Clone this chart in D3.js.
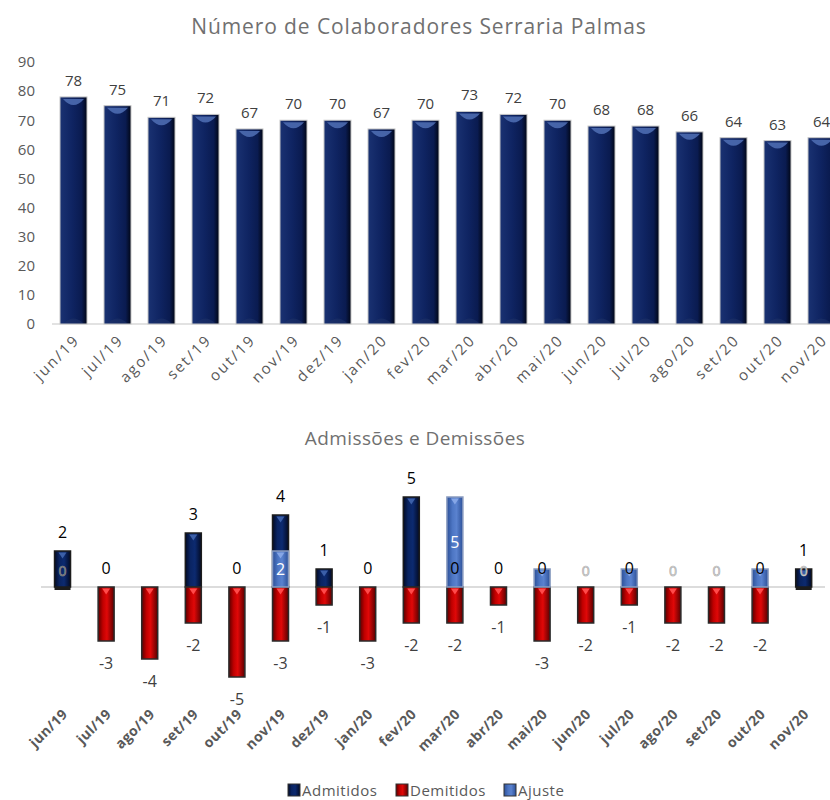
<!DOCTYPE html>
<html>
<head>
<meta charset="utf-8">
<script src="https://cdn.jsdelivr.net/npm/d3@7"></script>
<style>
  body { margin: 0; background: #fff; }
  svg { font-family: "Open Sans", "Noto Sans", sans-serif; display: block; }
</style>
</head>
<body>
<div class="chart"></div>
<script>
// months shared by both charts
var months = ["jun/19","jul/19","ago/19","set/19","out/19","nov/19","dez/19","jan/20","fev/20",
              "mar/20","abr/20","mai/20","jun/20","jul/20","ago/20","set/20","out/20","nov/20"];

// headcount per month
var colaboradores = [78,75,71,72,67,70,70,67,70,73,72,70,68,68,66,64,63,64];
var yTicksTop = [0,10,20,30,40,50,60,70,80,90];

// admissions / dismissals / adjustments (null = empty cell)
var admitidos = [2,0,null,3,0,4,1,0,5,0,0,0,null,0,null,null,0,1];
var demitidos = [null,-3,-4,-2,-5,-3,-1,-3,-2,-2,-1,-3,-2,-1,-2,-2,-2,null];
var ajuste    = [0,null,null,null,null,2,null,null,null,5,null,1,0,1,0,0,1,0];

var seriesNames = ["Admitidos","Demitidos","Ajuste"];

const W = 830, H = 800;

var svg = d3.select(".chart").append("svg")
    .attr("width", W)
    .attr("height", H);

var defs = svg.append("defs");

function hGrad(id, stops) {
    var g = defs.append("linearGradient").attr("id", id)
        .attr("x1", "0%").attr("x2", "100%").attr("y1", "0%").attr("y2", "0%");
    stops.forEach(s => g.append("stop").attr("offset", s[0]).attr("stop-color", s[1]));
}
hGrad("gTop", [["0%","#1a3272"],["45%","#0f2462"],["80%","#0a1b50"],["100%","#010615"]]);
hGrad("gAdm", [["0%","#020a24"],["30%","#0a2462"],["60%","#0c2a70"],["100%","#020a24"]]);
hGrad("gDem", [["0%","#5a0000"],["30%","#c00000"],["55%","#e00808"],["100%","#5a0000"]]);
hGrad("gAju", [["0%","#2c5098"],["35%","#4d76c4"],["60%","#5a82cf"],["100%","#2c5098"]]);

// ---------- top chart ----------
const x1 = d3.scaleBand()
    .domain(months)
    .range([51.5, 51.5 + 18 * 44])
    .paddingInner(0.386)
    .paddingOuter(0.193);

const y1 = d3.scaleLinear()
    .domain([0, 90])
    .range([324, 62]);

svg.append("text")
    .text("Número de Colaboradores Serraria Palmas")
    .attr("x", 419)
    .attr("y", 34)
    .attr("text-anchor", "middle")
    .attr("font-size", 21)
    .attr("letter-spacing", 0.9)
    .attr("fill", "#707070");

var yAxisTop = svg.append("g")
    .attr("transform", "translate(35,0)")
    .call(d3.axisLeft(y1).tickValues(yTicksTop).tickSize(0).tickPadding(0));
yAxisTop.select(".domain").remove();
yAxisTop.selectAll("text")
    .attr("font-size", 15)
    .attr("font-family", "Open Sans")
    .attr("fill", "#595959");

svg.append("line")
    .attr("x1", 52).attr("x2", W)
    .attr("y1", y1(0)).attr("y2", y1(0))
    .attr("stroke", "#d9d9d9")
    .attr("stroke-width", 1.5);

var topBars = svg.append("g").selectAll("g")
    .data(colaboradores)
    .enter()
    .append("g");

topBars.append("rect")
    .attr("x", (d, i) => x1(months[i]))
    .attr("y", d => y1(d))
    .attr("width", x1.bandwidth())
    .attr("height", d => y1(0) - y1(d))
    .attr("fill", "url(#gTop)")
    .attr("stroke", "#c8c8c8")
    .attr("stroke-width", 1);

// glossy highlight on top of each bar
topBars.append("path")
    .attr("d", (d, i) => {
        var x = x1(months[i]), w = x1.bandwidth(), y = y1(d);
        return "M" + (x + 3) + "," + (y + 2) + " L" + (x + w - 3) + "," + (y + 2) +
               " Q" + (x + w / 2) + "," + (y + 14) + " " + (x + 3) + "," + (y + 2) + "Z";
    })
    .attr("fill", "#4d6cb0")
    .attr("opacity", 0.9);

topBars.append("path")
    .attr("d", (d, i) => {
        var x = x1(months[i]), w = x1.bandwidth(), y = y1(0);
        return "M" + (x + 4) + "," + (y - 1) + " Q" + (x + w / 2) + "," + (y - 10) + " " + (x + w - 4) + "," + (y - 1) + "Z";
    })
    .attr("fill", "#1e3268")
    .attr("opacity", 0.6);

topBars.append("text")
    .text(d => d)
    .attr("x", (d, i) => x1(months[i]) + x1.bandwidth() / 2)
    .attr("y", d => y1(d) - 11)
    .attr("text-anchor", "middle")
    .attr("font-size", 15)
    .attr("fill", "#404040");

svg.append("g").selectAll("text")
    .data(months)
    .enter()
    .append("text")
    .text(d => d)
    .attr("transform", d => "translate(" + (x1(d) + x1.bandwidth() / 2 + 7) + ",341) rotate(-45)")
    .attr("text-anchor", "end")
    .attr("font-size", 15)
    .attr("letter-spacing", 2)
    .attr("fill", "#595959");

// ---------- bottom chart ----------
const x2 = d3.scaleBand()
    .domain(months)
    .range([40.7, 40.7 + 18 * 43.6])
    .paddingInner(0.633)
    .paddingOuter(0.317);

const y2 = d3.scaleLinear()
    .domain([-6, 6])
    .range([695, 479]);

svg.append("text")
    .text("Admissões e Demissões")
    .attr("x", 415)
    .attr("y", 445)
    .attr("text-anchor", "middle")
    .attr("font-size", 19)
    .attr("letter-spacing", 0.4)
    .attr("fill", "#707070");

svg.append("line")
    .attr("x1", 41).attr("x2", 825)
    .attr("y1", y2(0)).attr("y2", y2(0))
    .attr("stroke", "#d0d0d0")
    .attr("stroke-width", 1.5);

function drawSeries(values, fill, stroke, hl) {
    var g = svg.append("g");
    var pts = values.map((v, i) => ({v: v, m: months[i]})).filter(d => d.v !== null && d.v !== 0);
    g.selectAll("rect")
        .data(pts)
        .enter()
        .append("rect")
        .attr("x", d => x2(d.m))
        .attr("y", d => y2(Math.max(0, d.v)))
        .attr("width", x2.bandwidth())
        .attr("height", d => Math.abs(y2(d.v) - y2(0)))
        .attr("fill", fill)
        .attr("stroke", stroke)
        .attr("stroke-width", 1.5);
    // small triangle highlight at the top of each bar
    g.selectAll("path")
        .data(pts)
        .enter()
        .append("path")
        .attr("d", d => {
            var cx = x2(d.m) + x2.bandwidth() / 2, ty = y2(Math.max(0, d.v)) + 1.5;
            return "M" + (cx - 4) + "," + ty + " L" + (cx + 4) + "," + ty + " L" + cx + "," + (ty + 6) + "Z";
        })
        .attr("fill", hl);
}

drawSeries(admitidos, "url(#gAdm)", "#1c1c1c", "#3b5fa8");
drawSeries(demitidos, "url(#gDem)", "#2a2a2a", "#ff4a4a");
drawSeries(ajuste, "url(#gAju)", "#8a9cc0", "#86a6e6");

// empty demitidos cells still leave a thin base under the blue bar
svg.append("g").selectAll("rect")
    .data(months.filter((m, i) => demitidos[i] === null && admitidos[i] > 0))
    .enter()
    .append("rect")
    .attr("x", d => x2(d))
    .attr("y", y2(0))
    .attr("width", x2.bandwidth())
    .attr("height", 3)
    .attr("fill", "#1c1c1c");

// ajuste labels: centred and white; zero values sit just above the axis; ones are hidden under the 0 of Admitidos
svg.append("g").selectAll("text")
    .data(ajuste.map((v, i) => ({v: v, m: months[i]})).filter(d => d.v !== null && d.v !== 1))
    .enter()
    .append("text")
    .text(d => d.v)
    .attr("x", d => x2(d.m) + x2.bandwidth() / 2)
    .attr("y", d => d.v >= 2 ? (y2(d.v) + y2(0)) / 2 + 6 : y2(0) - 11)
    .attr("text-anchor", "middle")
    .attr("font-size", d => d.v >= 2 ? 16 : 14)
    .attr("fill", (d, i) => d.m === "jun/19" ? "#4a4a4a" : "#ffffff")
    .attr("stroke", d => d.v >= 2 ? "none" : "#9a9a9a")
    .attr("stroke-width", 0.6);

svg.append("g").selectAll("text")
    .data(admitidos.map((v, i) => ({v: v, m: months[i]})).filter(d => d.v !== null))
    .enter()
    .append("text")
    .text(d => d.v)
    .attr("x", d => x2(d.m) + x2.bandwidth() / 2)
    .attr("y", d => y2(d.v) - 13)
    .attr("text-anchor", "middle")
    .attr("font-size", 16)
    .attr("fill", "#000000");

svg.append("g").selectAll("text")
    .data(demitidos.map((v, i) => ({v: v, m: months[i]})).filter(d => d.v !== null))
    .enter()
    .append("text")
    .text(d => d.v)
    .attr("x", d => x2(d.m) + x2.bandwidth() / 2)
    .attr("y", d => y2(d.v) + 28)
    .attr("text-anchor", "middle")
    .attr("font-size", 16)
    .attr("fill", "#404040");

svg.append("g").selectAll("text")
    .data(months)
    .enter()
    .append("text")
    .text(d => d)
    .attr("transform", d => "translate(" + (x2(d) + x2.bandwidth() / 2 + 6) + ",715) rotate(-45)")
    .attr("text-anchor", "end")
    .attr("font-size", 14)
    .attr("font-weight", "bold")
    .attr("letter-spacing", 0.4)
    .attr("fill", "#595959");

// legend
var legendX = [288, 396, 504];
var legendFill = ["url(#gAdm)", "url(#gDem)", "url(#gAju)"];
var legend = svg.append("g");
legend.selectAll("rect")
    .data(seriesNames)
    .enter()
    .append("rect")
    .attr("x", (d, i) => legendX[i])
    .attr("y", 784)
    .attr("width", 12)
    .attr("height", 12)
    .attr("fill", (d, i) => legendFill[i])
    .attr("stroke", "#333")
    .attr("stroke-width", 1);
legend.selectAll("text")
    .data(seriesNames)
    .enter()
    .append("text")
    .text(d => d)
    .attr("x", (d, i) => legendX[i] + 14)
    .attr("y", 796)
    .attr("font-size", 15)
    .attr("letter-spacing", 0.5)
    .attr("fill", "#595959");
</script>
</body>
</html>
